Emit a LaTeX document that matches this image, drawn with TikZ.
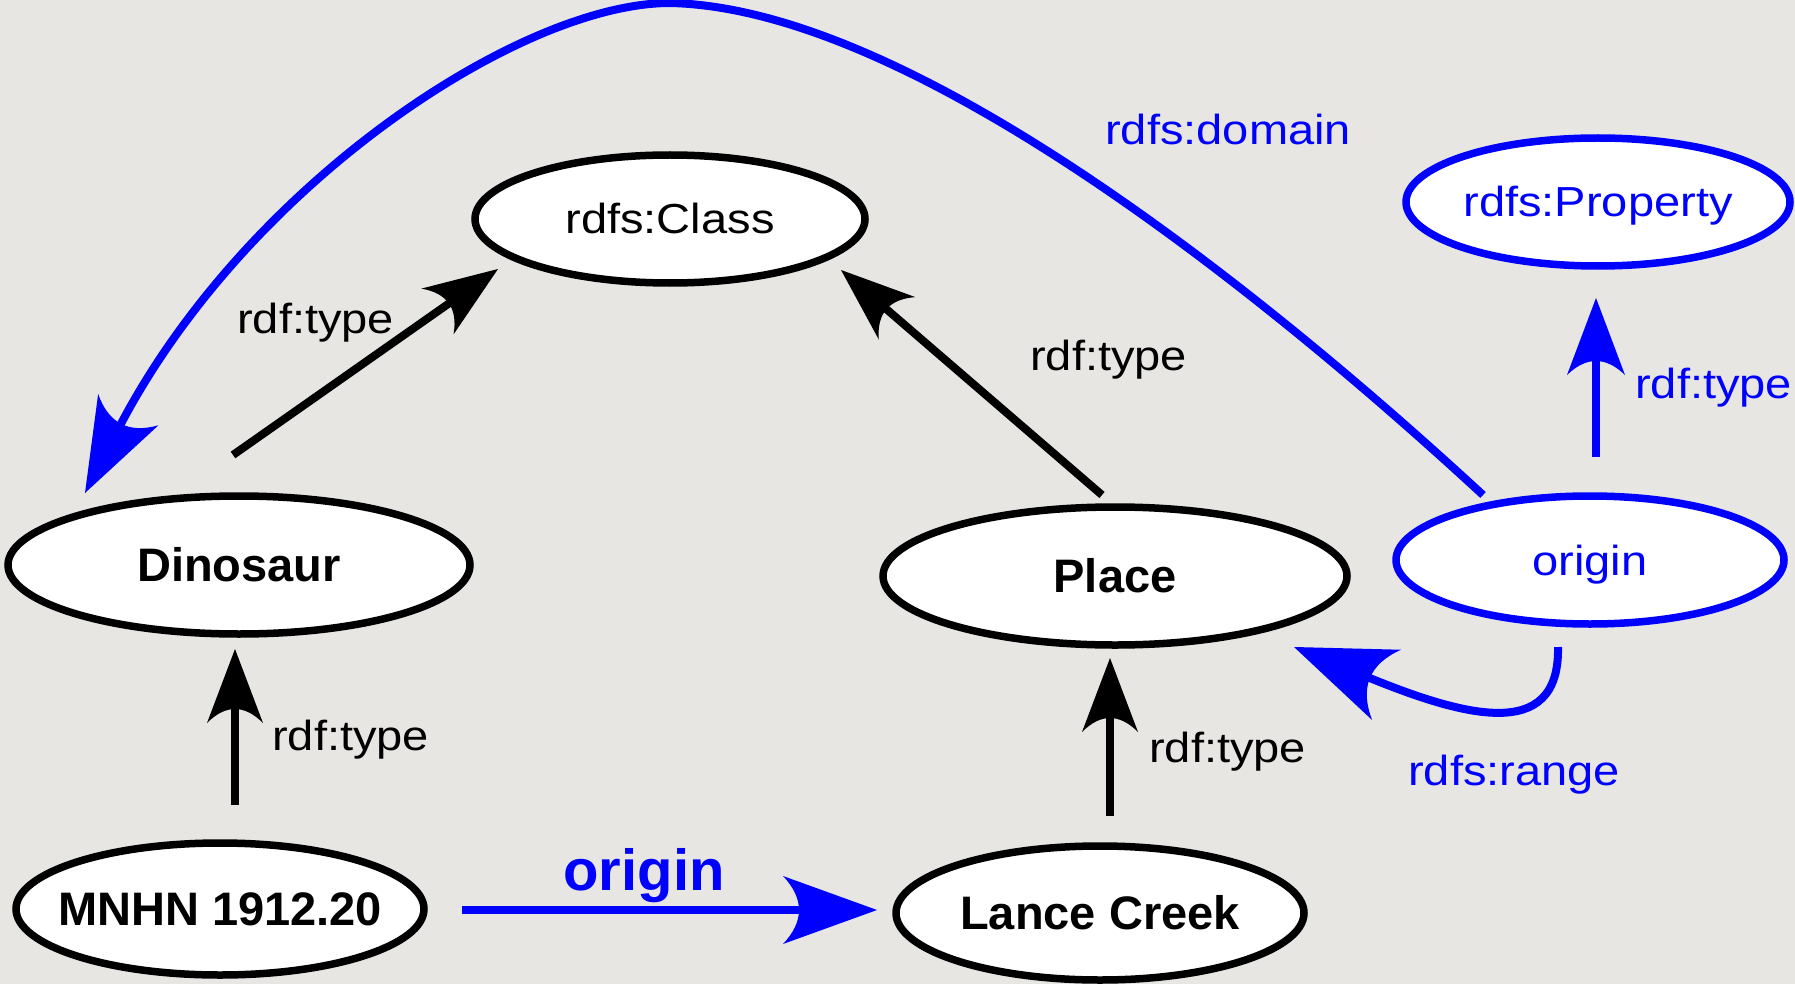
\documentclass[tikz,border=0pt]{standalone}
\usepackage{fontspec}
\setmainfont{Liberation Sans}
\newfontfamily\lblfont[FakeStretch=1.12]{Liberation Sans}
\usetikzlibrary{arrows.meta,shapes.geometric,calc}
\definecolor{bgcol}{RGB}{231,230,227}
\definecolor{rdfblue}{RGB}{0,0,255}
\pgfdeclarearrow{
  name = CStealth,
  parameters = {\the\pgfarrowlength,\the\pgfarrowwidth,\the\pgfarrowinset},
  setup code = {
    \pgfarrowssettipend{\pgfarrowlength}
    \pgfarrowssetbackend{0pt}
    \pgfarrowssetlineend{1.3\pgfarrowinset}
    \pgfarrowssavethe\pgfarrowlength
    \pgfarrowssavethe\pgfarrowwidth
    \pgfarrowssavethe\pgfarrowinset
  },
  drawing code = {
    \pgfpathmoveto{\pgfqpoint{\pgfarrowlength}{0pt}}
    \pgfpathlineto{\pgfqpoint{0pt}{.5\pgfarrowwidth}}
    \pgfpathquadraticcurveto{\pgfqpoint{2\pgfarrowinset}{0pt}}{\pgfqpoint{0pt}{-.5\pgfarrowwidth}}
    \pgfpathclose
    \pgfusepathqfill
  },
  defaults = {length=10pt, width=8pt, inset=3pt}
}
\begin{document}
\begin{tikzpicture}[x=1pt,y=-1pt,
  ell/.style={ellipse, draw, line width=7.5pt, fill=white, inner sep=0pt, text depth=0pt},
  plain/.style={ell, text height=30pt, font=\fontsize{42}{50}\lblfont},
  bold/.style={ell, text height=33pt, font=\fontsize{47}{56}\selectfont\bfseries},
  lbl/.style={inner sep=0pt, anchor=base west, font=\fontsize{42}{50}\lblfont},
  conn/.style={line width=8pt},
  blktip/.style={conn, black, -{CStealth[length=74pt,width=56pt,inset=14pt]}},
  bluetip/.style={conn, rdfblue, -{CStealth[length=77pt,width=58pt,inset=14pt]}},
  bigtip/.style={conn, rdfblue, -{CStealth[length=94pt,width=68pt,inset=16pt]}},
  rangetip/.style={conn, rdfblue, -{CStealth[length=100pt,width=76pt,inset=18pt]}}
]
\fill[bgcol] (0,0) rectangle (1795,984);
\useasboundingbox (0,0) rectangle (1795,984);

% nodes
\node[plain, minimum width=390pt, minimum height=128pt] (cls) at (670,219) {\makebox[0pt]{rdfs:Class}};
\node[plain, draw=rdfblue, text=rdfblue, minimum width=384pt, minimum height=128pt] (prop) at (1598,202) {\makebox[0pt]{rdfs:Property}};
\node[bold, minimum width=462pt, minimum height=138pt] (dino) at (239,565) {\makebox[0pt]{Dinosaur}};
\node[bold, minimum width=464pt, minimum height=138pt] (place) at (1115,576) {\makebox[0pt]{Place}};
\node[plain, draw=rdfblue, text=rdfblue, minimum width=388pt, minimum height=128pt] (orig) at (1590,560) {\makebox[0pt]{origin}};
\node[bold, minimum width=408pt, minimum height=132pt] (mnhn) at (220,909) {\makebox[0pt]{MNHN 1912.20}};
\node[bold, minimum width=408pt, minimum height=134pt] (lance) at (1100,913) {\makebox[0pt]{Lance Creek}};

% connectors
\draw[blktip] ($(dino)+(-6,-110)$) -- ($(cls)+(-172,50)$);
\draw[blktip] ($(place)+(-13,-81)$) -- ($(cls)+(171,51)$);
\draw[blktip] ($(mnhn)+(15,-104)$) -- ($(dino)+(-4,84)$);
\draw[blktip] ($(lance)+(10,-97)$) -- ($(place)+(-5,82)$);
\draw[bigtip] ($(mnhn)+(242,1)$) -- ($(lance)+(-223,-3)$);
\draw[bluetip] ($(orig)+(6,-103)$) -- ($(prop)+(-2,96)$);
\draw[bigtip] ($(orig)+(-107,-65)$) .. controls (1250,280) and (905,8) .. (670,3)
   .. controls (520,3) and (245,185) .. ($(dino)+(-154,-72)$);
\draw[rangetip] ($(orig)+(-32,87)$) .. controls (1560,745) and (1460,715) .. ($(place)+(179,71)$);

% labels
\node[lbl] (l1) at (237,333) {rdf:type};
\node[lbl] (l2) at (1030,370) {rdf:type};
\node[lbl] (l3) at (272,750) {rdf:type};
\node[lbl] (l4) at (1149,762) {rdf:type};
\node[lbl, text=rdfblue] (l5) at (1635,398) {rdf:type};
\node[lbl, text=rdfblue] (ldom) at (1105,145) {rdfs:domain};
\node[lbl, text=rdfblue] (lrange) at (1408,785) {rdfs:range};
\node[inner sep=0pt, anchor=base, text=rdfblue, font=\fontsize{58}{68}\selectfont\bfseries] (lorig) at (644,890) {origin};
\end{tikzpicture}
\end{document}
